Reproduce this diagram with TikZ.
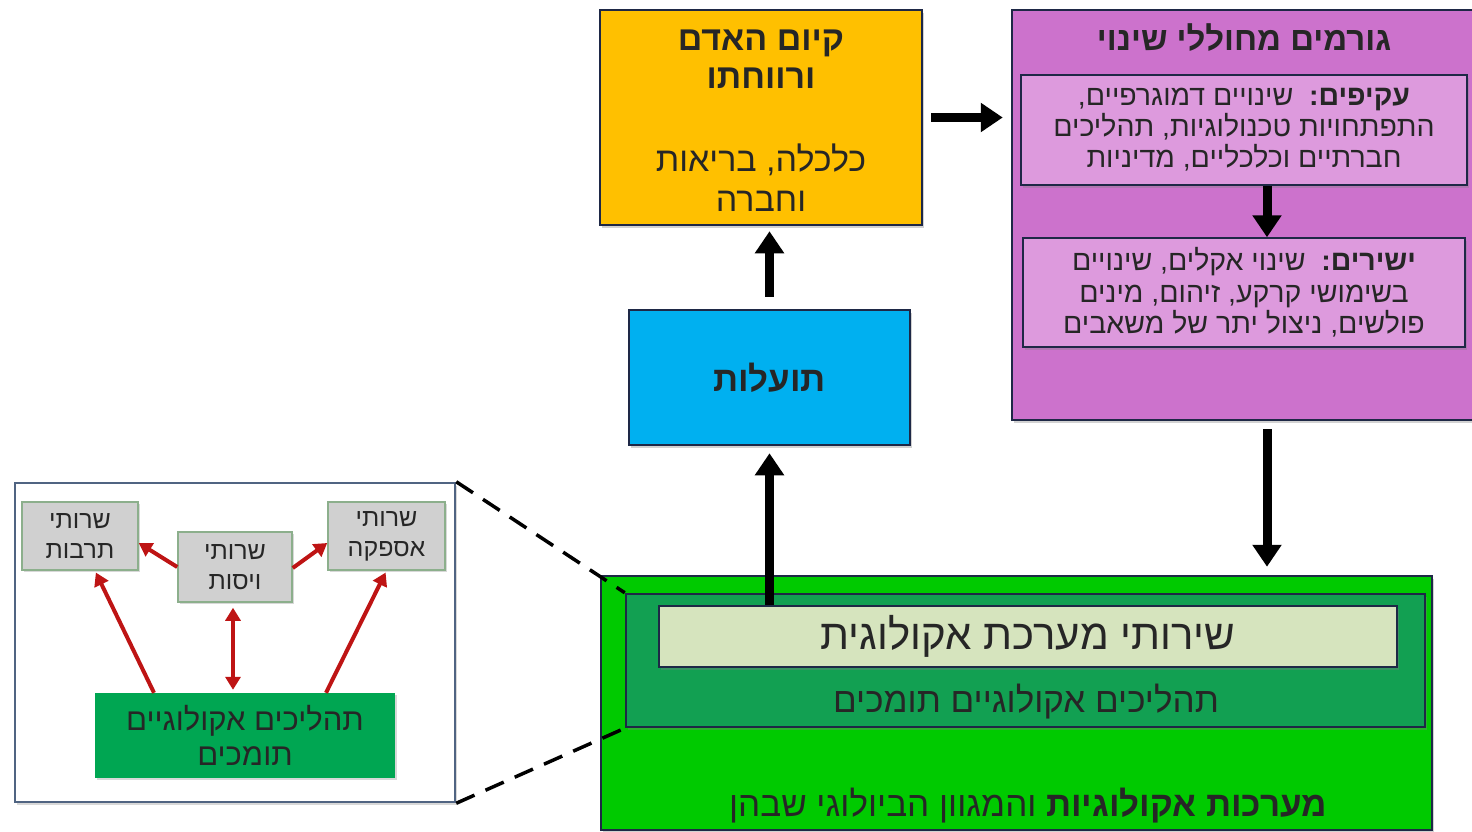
\documentclass[tikz,border=0pt]{standalone}
\usepackage{fontspec}
\newfontfamily\hebfont[Script=Hebrew]{Liberation Sans}
\TeXXeTstate=1
\usetikzlibrary{arrows.meta,shadows}
\newcommand\heb[1]{\beginR#1\endR}
\newcommand\fsz[2]{\fontsize{#1}{#2}\selectfont}
\definecolor{orY}{RGB}{255,192,0}
\definecolor{purp}{RGB}{204,114,204}
\definecolor{purpL}{RGB}{221,154,221}
\definecolor{navy}{RGB}{30,40,70}
\definecolor{skyb}{RGB}{0,176,240}
\definecolor{brgreen}{RGB}{0,202,0}
\definecolor{dkgr}{RGB}{18,160,82}
\definecolor{ltgr}{RGB}{214,228,190}
\definecolor{insetb}{RGB}{80,100,130}
\definecolor{grayb}{RGB}{208,208,208}
\definecolor{graybd}{RGB}{140,175,140}
\definecolor{procg}{RGB}{0,166,82}
\definecolor{redar}{RGB}{190,20,20}
\tikzset{
  box/.style={draw=navy, line width=2.5pt, minimum width=#1, inner sep=0pt,
    drop shadow={shadow xshift=2pt,shadow yshift=-3pt,opacity=0.35}},
  txt/.style={align=center, inner sep=0pt, text=black!85},
  bigarrow/.style={line width=9pt, -{Triangle[length=22pt,width=28pt]}},
  redarrow/.style={draw=redar, line width=4pt, -{Triangle[length=13pt,width=15pt]}},
  graybox/.style={fill=grayb, draw=graybd, line width=1.5pt, inner sep=0pt,
    drop shadow={shadow xshift=1.5pt,shadow yshift=-2pt,opacity=0.3}},
  zoomline/.style={line width=3.5pt, dash pattern=on 20pt off 12pt}
}
\begin{document}
\begin{tikzpicture}[x=1pt,y=-1pt]
\useasboundingbox (0,0) rectangle (1472,832);
\fill[white] (0,0) rectangle (1472,832);

% orange box
\node[box=322pt, fill=orY, minimum height=215pt] (orange) at (761,117.5) {};
\node[txt, font=\hebfont\bfseries\fsz{34}{38}] (orTitle) at (761,59)
  {\heb{קיום האדם}\\\heb{ורווחתו}};
\node[txt, font=\hebfont\fsz{34}{40}] (orBody) at (761,178)
  {\heb{כלכלה, בריאות}\\\heb{וחברה}};

% purple box
\node[box=464pt, fill=purp, minimum height=410pt] (purple) at (1244,215) {};
\node[txt, font=\hebfont\bfseries\fsz{33}{38}] (puTitle) at (1244,38) {\heb{גורמים מחוללי שינוי}};
\node[box=446pt, fill=purpL, minimum height=110pt, line width=1.5pt, txt, font=\hebfont\fsz{28.5}{31}]
  (pin1) at (1244,130)
  {\heb{\textbf{עקיפים:}\ \ שינויים דמוגרפיים,}\\\heb{התפתחויות טכנולוגיות, תהליכים}\\\heb{חברתיים וכלכליים, מדיניות}};
\node[box=442pt, fill=purpL, minimum height=109pt, line width=1.5pt, txt, font=\hebfont\fsz{28.5}{31.5}]
  (pin2) at (1244,292.5)
  {\heb{\textbf{ישירים:}\ \ שינוי אקלים, שינויים}\\\heb{בשימושי קרקע, זיהום, מינים}\\\heb{פולשים, ניצול יתר של משאבים}};
\coordinate (ax) at (1267,0);

% blue box
\node[box=281pt, fill=skyb, minimum height=135pt, txt, font=\hebfont\bfseries\fsz{35}{40}]
  (blue) at (769.5,377.5) {\heb{תועלות}};

% green boxes
\node[box=831pt, fill=brgreen, minimum height=254pt] (green) at (1016.5,703) {};
\node[box=799pt, fill=dkgr, minimum height=133pt] (dkgreen) at (1025.5,660.5) {};
\node[box=738pt, fill=ltgr, minimum height=61pt, txt, font=\hebfont\fsz{42}{46}]
  (light) at (1028,636.5) {\heb{שירותי מערכת אקולוגית}};
\node[txt, font=\hebfont\fsz{35}{40}] (tdk) at (1026,702) {\heb{תהליכים אקולוגיים תומכים}};
\node[txt, font=\hebfont\fsz{35}{40}] (gtxt) at (1028,806) {\heb{\textbf{מערכות אקולוגיות} והמגוון הביולוגי שבהן}};

% black arrows
\draw[bigarrow] (orange.east) ++(8pt,0) coordinate (oe) -- ([xshift=-8pt]purple.west |- oe);
\draw[bigarrow] (pin1.south -| ax) -- (pin2.north -| ax);
\draw[bigarrow, shorten <=8pt, shorten >=8pt] (purple.south -| ax) -- (green.north -| ax);
\draw[bigarrow, shorten <=12pt, shorten >=5pt] (blue.north) -- (blue.north |- orange.south);
\draw[bigarrow, shorten >=7pt] (light.north -| blue.south) -- (blue.south);

% inset
\node[draw=insetb, fill=white, line width=2.5pt, minimum width=440pt, minimum height=319pt, inner sep=0pt,
  drop shadow={shadow xshift=2pt,shadow yshift=-3pt,opacity=0.3}] (inset) at (235,642.5) {};
\node[graybox, minimum width=116pt, minimum height=68pt, txt, font=\hebfont\fsz{25}{30}] (cult) at (80,536)
  {\heb{שרותי}\\\heb{תרבות}};
\node[graybox, minimum width=114pt, minimum height=70pt, txt, font=\hebfont\fsz{25}{30}] (reg) at (235,567)
  {\heb{שרותי}\\\heb{ויסות}};
\node[graybox, minimum width=117pt, minimum height=68pt, txt, font=\hebfont\fsz{25}{30}] (prov) at (386.5,536)
  {\heb{שרותי}\\\heb{אספקה}};
\node[fill=procg, minimum width=300pt, minimum height=85pt, txt, font=\hebfont\fsz{31}{35},
  drop shadow={shadow xshift=2pt,shadow yshift=-2pt,opacity=0.3}] (proc) at (245,735.5)
  {\heb{תהליכים אקולוגיים}\\\heb{תומכים}};

\draw[redarrow] (reg.west) -- ([yshift=-7pt]cult.east);
\draw[redarrow] ([yshift=-1pt]reg.east) -- ([yshift=-7pt]prov.west);
\draw[redarrow, {Triangle[length=13pt,width=15pt]}-{Triangle[length=13pt,width=15pt]}, shorten <=5pt, shorten >=3pt]
  ([xshift=-2pt]reg.south) -- ([xshift=-2pt]reg.south |- proc.north);
\draw[redarrow, shorten >=2pt] ([xshift=-91pt]proc.north) -- ([xshift=15pt]cult.south);
\draw[redarrow, shorten >=2pt] ([xshift=81pt]proc.north) -- (prov.south);

% zoom lines
\draw[zoomline] (inset.north east) -- (dkgreen.north west);
\draw[zoomline] (inset.south east) -- (dkgreen.south west);
\end{tikzpicture}
\end{document}
